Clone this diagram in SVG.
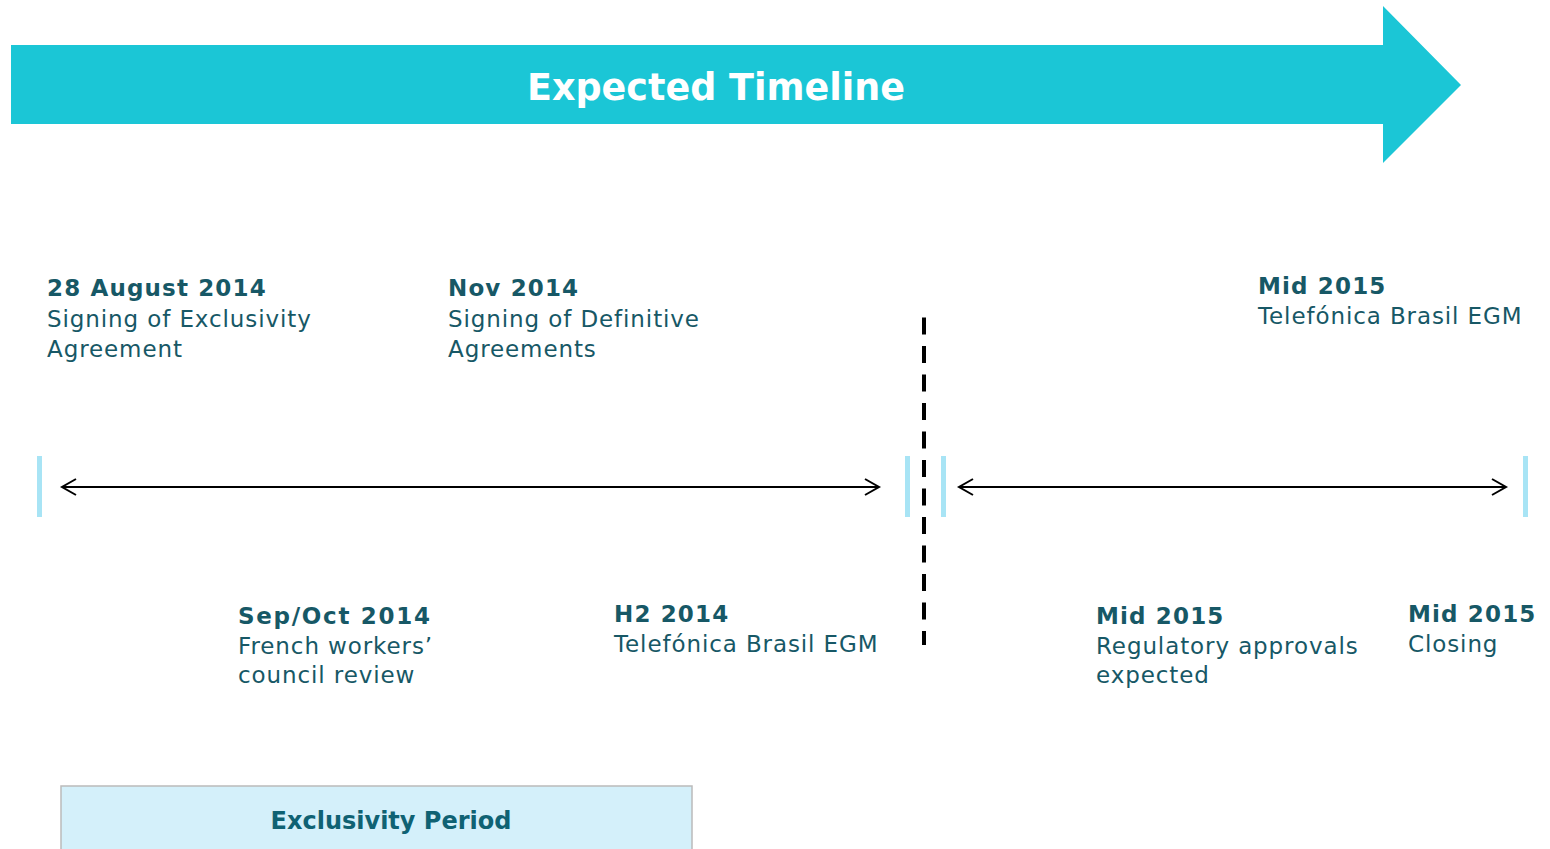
<svg xmlns="http://www.w3.org/2000/svg" width="1550" height="849" viewBox="0 0 1550 849">
<style>
.t{font-family:"DejaVu Sans","Verdana",sans-serif;font-size:23px;fill:#175866;letter-spacing:0.9px}
.b{font-weight:bold;letter-spacing:1.15px}
.bar{fill:#a8e4f5}
.conn{stroke:#000;stroke-width:2;fill:none}
</style>
<rect width="1550" height="849" fill="#fff"/>
<g id="banner">
<polygon points="11,45 1383,45 1383,6 1461,85 1383,163 1383,124 11,124" fill="#1bc6d6"/>
<text x="716" y="100" text-anchor="middle" style="font-family:'DejaVu Sans',sans-serif;font-weight:bold;font-size:36.5px;fill:#fff;letter-spacing:0px">Expected Timeline</text>
</g>
<g id="ticks">
<rect class="bar" x="37" y="456" width="5" height="61"/>
<rect class="bar" x="905" y="456" width="5" height="61"/>
<rect class="bar" x="941" y="456" width="5" height="61"/>
<rect class="bar" x="1523" y="456" width="5" height="61"/>
</g>
<g id="connectors">
<line class="conn" x1="62" y1="487" x2="879" y2="487"/>
<polyline class="conn" points="76,479 62,487 76,495"/>
<polyline class="conn" points="865,479 879,487 865,495"/>
<line class="conn" x1="959" y1="487" x2="1506" y2="487"/>
<polyline class="conn" points="973,479 959,487 973,495"/>
<polyline class="conn" points="1492,479 1506,487 1492,495"/>
<line x1="924" y1="316" x2="924" y2="645" stroke="#000" stroke-width="4" stroke-dasharray="17 11.5" stroke-dashoffset="-1.5"/>
</g>
<g id="n1">
<text class="t b" x="47" y="296">28 August 2014</text>
<text class="t" x="47" y="327">Signing of Exclusivity</text>
<text class="t" x="47" y="357">Agreement</text>
</g>
<g id="n2">
<text class="t b" x="448" y="296">Nov 2014</text>
<text class="t" x="448" y="327">Signing of Definitive</text>
<text class="t" x="448" y="357">Agreements</text>
</g>
<g id="n3">
<text class="t b" x="1258" y="294">Mid 2015</text>
<text class="t" x="1258" y="324">Telefónica Brasil EGM</text>
</g>
<g id="n4">
<text class="t b" x="238" y="624" style="letter-spacing:1.7px">Sep/Oct 2014</text>
<text class="t" x="238" y="654">French workers’</text>
<text class="t" x="238" y="683">council review</text>
</g>
<g id="n5">
<text class="t b" x="614" y="622">H2 2014</text>
<text class="t" x="614" y="652">Telefónica Brasil EGM</text>
</g>
<g id="n6">
<text class="t b" x="1096" y="624">Mid 2015</text>
<text class="t" x="1096" y="654">Regulatory approvals</text>
<text class="t" x="1096" y="683">expected</text>
</g>
<g id="n7">
<text class="t b" x="1408" y="622">Mid 2015</text>
<text class="t" x="1408" y="652">Closing</text>
</g>
<g id="period">
<rect x="61" y="786" width="631" height="70" fill="#d4f0fa" stroke="#bbbbbb" stroke-width="1.5"/>
<text x="391" y="829" text-anchor="middle" style="font-family:'DejaVu Sans',sans-serif;font-weight:bold;font-size:24px;fill:#0f6273">Exclusivity Period</text>
</g>
</svg>
